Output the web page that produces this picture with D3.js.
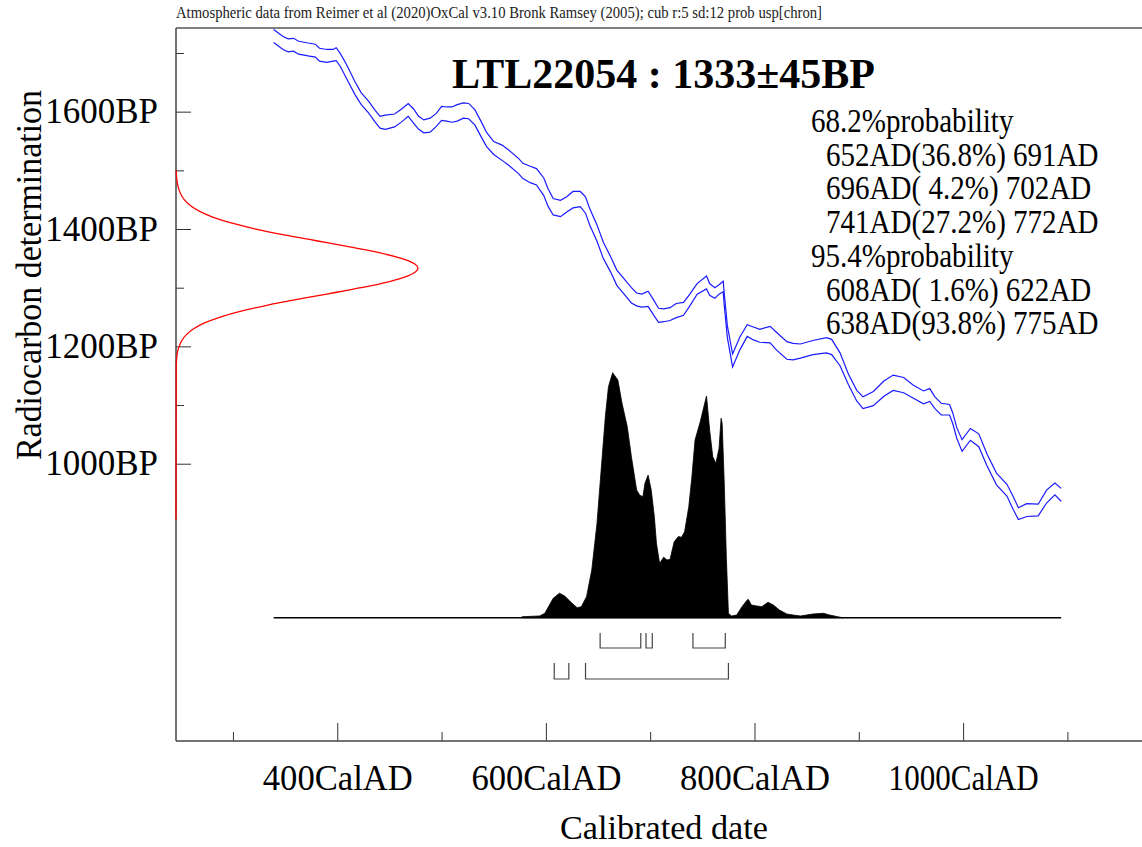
<!DOCTYPE html>
<html>
<head>
<meta charset="utf-8">
<script src="https://cdn.jsdelivr.net/npm/d3@7"></script>
<style>
  body { margin: 0; background: #fff; }
  svg { display: block; font-family: "Liberation Serif", "Times New Roman", serif; }
  .tick line { stroke: #333; }
  .tick text { fill: #000; }
</style>
</head>
<body>
<div id="plot"></div>
<script>
// Calibration curve (IntCal20 as plotted): calendar year AD, BP centre, 1 sigma
var calYears = [339, 348, 353, 358, 363, 372, 379, 383, 390, 396, 399, 403, 409, 417, 423, 430, 436, 441, 446, 455,
  462, 468, 473, 478, 483, 489, 495, 500, 505, 510, 515, 521, 526, 532, 538, 543, 550, 558, 564, 574,
  578, 585, 591, 598, 602, 607, 614, 620, 626, 633, 638, 642, 649, 655, 662, 668, 676, 682, 687, 692,
  698, 703, 708, 713, 719, 725, 732, 738, 745, 754, 757, 762, 766, 770, 771, 774, 779, 786, 793, 799,
  805, 815, 821, 831, 837, 844, 856, 869, 874, 882, 890, 898, 904, 914, 924, 933, 943, 952, 962, 968,
  973, 979, 987, 990, 994, 999, 1007, 1015, 1023, 1032, 1042, 1048, 1053, 1061, 1072, 1080, 1088, 1094];
var calBP = [1729, 1717, 1713, 1714, 1709, 1706, 1704, 1697, 1695, 1696, 1698, 1688, 1668, 1640, 1622, 1608, 1593, 1582, 1582, 1585,
  1594, 1603, 1593, 1581, 1575, 1577, 1586, 1597, 1596, 1595, 1598, 1602, 1601, 1590, 1570, 1553, 1538, 1530, 1522, 1507,
  1499, 1493, 1489, 1472, 1454, 1438, 1435, 1442, 1450, 1451, 1441, 1421, 1393, 1364, 1340, 1317, 1300, 1287, 1280, 1278,
  1281, 1267, 1253, 1253, 1255, 1261, 1264, 1279, 1298, 1309, 1297, 1291, 1297, 1302, 1280, 1225, 1176, 1205, 1227, 1222,
  1218, 1220, 1209, 1193, 1191, 1192, 1198, 1202, 1199, 1178, 1144, 1116, 1104, 1111, 1128, 1138, 1134, 1123, 1113, 1117,
  1104, 1093, 1092, 1078, 1052, 1031, 1050, 1040, 1006, 974, 955, 933, 915, 921, 921, 944, 957, 947];
var calErr = [11, 11, 11, 11, 11, 11, 11, 11, 11, 10, 11, 11, 12, 11, 10, 10, 10, 10, 12, 11,
  11, 11, 12, 11, 11, 12, 11, 12, 12, 13, 14, 13, 13, 13, 13, 12, 11, 13, 13, 13,
  13, 14, 14, 15, 15, 14, 14, 13, 14, 13, 14, 14, 14, 14, 13, 13, 13, 13, 11, 11,
  13, 13, 12, 11, 11, 12, 11, 10, 9, 11, 10, 9, 8, 9, 10, 10, 11, 11, 10, 11,
  11, 14, 15, 15, 14, 12, 12, 13, 13, 11, 9, 9, 10, 12, 13, 13, 13, 11, 11, 11,
  10, 10, 9, 9, 9, 10, 10, 11, 10, 10, 10, 11, 10, 11, 10, 11, 10, 11];

// Measurement likelihood (red), BP vs relative density
var measBP = [1500, 1490, 1480, 1470, 1460, 1450, 1440, 1430, 1420, 1410, 1400, 1390, 1380, 1370, 1360, 1350, 1340, 1333,
  1320, 1310, 1300, 1290, 1280, 1270, 1260, 1250, 1240, 1230, 1220, 1210, 1200, 1190, 1180, 1170, 905];
var measDens = [0.001, 0.002, 0.005, 0.010, 0.019, 0.034, 0.059, 0.098, 0.154, 0.232, 0.330, 0.448, 0.580, 0.713, 0.835, 0.931, 0.988, 1,
  0.959, 0.878, 0.764, 0.634, 0.500, 0.375, 0.269, 0.183, 0.118, 0.073, 0.043, 0.024, 0.013, 0.006, 0.003, 0.001, 0];

// Calibrated probability distribution (black)
var densYears = [577, 594, 599, 607, 613, 618, 625, 630, 634, 639, 644, 649, 652, 657, 660, 664, 669, 673, 678, 682,
  687, 690, 693, 695, 698, 701, 704, 706, 709, 713, 716, 719, 723, 727, 730, 733, 737, 740, 743, 748,
  754, 757, 760, 763, 766, 768, 769, 771, 773, 775, 778, 783, 788, 793, 794, 797, 802, 807, 813, 818,
  824, 831, 837, 844, 850, 856, 866, 872, 882, 885];
var densVals = [0.004, 0.007, 0.018, 0.079, 0.10, 0.089, 0.059, 0.041, 0.045, 0.086, 0.195, 0.385, 0.549, 0.82, 0.943, 1.0, 0.97, 0.875, 0.78, 0.657,
  0.521, 0.50, 0.494, 0.549, 0.582, 0.521, 0.412, 0.304, 0.222, 0.247, 0.236, 0.238, 0.31, 0.331, 0.328, 0.351, 0.453, 0.576, 0.725, 0.80,
  0.905, 0.766, 0.657, 0.63, 0.691, 0.814, 0.793, 0.549, 0.249, 0.018, 0.007, 0.011, 0.045, 0.072, 0.075, 0.052, 0.048, 0.045, 0.063, 0.052,
  0.031, 0.015, 0.011, 0.007, 0.011, 0.015, 0.018, 0.011, 0.002, 0];

// Ranges: [from, to, percent]
var ranges68 = [[652, 691, 36.8], [696, 702, 4.2], [741, 772, 27.2]];
var ranges95 = [[608, 622, 1.6], [638, 775, 93.8]];

var xMajor = [400, 600, 800, 1000];
var xMinor = [300, 500, 700, 900, 1100];
var yMajor = [1000, 1200, 1400, 1600];
var yMinor = [1100, 1300, 1500, 1700];

var headerText = "Atmospheric data from Reimer et al (2020)OxCal v3.10 Bronk Ramsey (2005); cub r:5 sd:12 prob usp[chron]";
var titleText = "LTL22054 : 1333\u00b145BP";

var serif = '"Liberation Serif", "Times New Roman", serif';

// Set up chart
var svgWidth = 1142;
var svgHeight = 847;
var plot = {left: 176, top: 28, right: 1142, bottom: 741};

var svg = d3.select("#plot")
  .append("svg")
  .attr("width", svgWidth)
  .attr("height", svgHeight);

var x = d3.scaleLinear().domain([245.4, 1171.5]).range([plot.left, plot.right]);
var y = d3.scaleLinear().domain([527.4, 1742.6]).range([plot.bottom, plot.top]);
var dens = d3.scaleLinear().domain([0, 1]).range([617.7, 372.7]);
var meas = d3.scaleLinear().domain([0, 1]).range([plot.left, 418]);

// header + frame line
svg.append("text")
  .attr("x", plot.left)
  .attr("y", 18)
  .attr("font-size", "16px")
  .attr("fill", "#222")
  .attr("textLength", 646)
  .attr("lengthAdjust", "spacingAndGlyphs")
  .text(headerText);

svg.append("line")
  .attr("x1", plot.left).attr("x2", plot.right)
  .attr("y1", plot.top).attr("y2", plot.top)
  .attr("stroke", "#555").attr("stroke-width", 1.5);

// axes
var xAxis = svg.append("g")
  .attr("transform", `translate(0, ${plot.bottom})`)
  .call(d3.axisBottom(x).tickValues(xMajor).tickSize(-18).tickPadding(24).tickFormat(d => d + "CalAD"))
  .attr("font-family", serif)
  .attr("font-size", "35px");
xAxis.selectAll("text")
  .attr("textLength", 150)
  .attr("lengthAdjust", "spacingAndGlyphs");

svg.append("g")
  .attr("transform", `translate(0, ${plot.bottom})`)
  .call(d3.axisBottom(x).tickValues(xMinor).tickSize(-9).tickFormat(""));

svg.append("g")
  .attr("transform", `translate(${plot.left}, 0)`)
  .call(d3.axisLeft(y).tickValues(yMajor).tickSize(-15).tickPadding(18).tickFormat(d => d + "BP"))
  .attr("font-family", serif)
  .attr("font-size", "35px");

svg.append("g")
  .attr("transform", `translate(${plot.left}, 0)`)
  .call(d3.axisLeft(y).tickValues(yMinor).tickSize(-8).tickFormat(""));

svg.selectAll(".domain").remove();

svg.append("line")
  .attr("x1", plot.left).attr("x2", plot.right)
  .attr("y1", plot.bottom).attr("y2", plot.bottom)
  .attr("stroke", "#444").attr("stroke-width", 1.5);
svg.append("line")
  .attr("x1", plot.left).attr("x2", plot.left)
  .attr("y1", plot.top).attr("y2", plot.bottom)
  .attr("stroke", "#444").attr("stroke-width", 1.5);

// calibration curve, +/- 1 sigma
var calData = calYears.map((d, i) => ({year: d, bp: calBP[i], err: calErr[i]}));
[1, -1].forEach(function(sign) {
  svg.append("path")
    .datum(calData)
    .attr("fill", "none")
    .attr("stroke", "#1a1aff")
    .attr("stroke-width", 1.2)
    .attr("d", d3.line().x(d => x(d.year)).y(d => y(d.bp + sign * d.err)));
});

// measurement curve on the y axis
var measData = measBP.map((d, i) => ({bp: d, v: measDens[i]}));
svg.append("path")
  .datum(measData)
  .attr("fill", "none")
  .attr("stroke", "#ff0000")
  .attr("stroke-width", 1.3)
  .attr("d", d3.line().x(d => meas(d.v)).y(d => y(d.bp)).curve(d3.curveMonotoneY));

// calibrated distribution
var densData = densYears.map((d, i) => ({year: d, v: densVals[i]}));
svg.append("line")
  .attr("x1", x(calYears[0])).attr("x2", x(calYears[calYears.length - 1]))
  .attr("y1", dens(0)).attr("y2", dens(0))
  .attr("stroke", "#000").attr("stroke-width", 1.5);
svg.append("path")
  .datum(densData)
  .attr("fill", "#000")
  .attr("stroke", "#000")
  .attr("stroke-width", 0.8)
  .attr("d", d3.area().x(d => x(d.year)).y0(dens(0)).y1(d => dens(d.v)));

// range brackets
function brackets(ranges, top, bottom) {
  ranges.forEach(function(r) {
    svg.append("path")
      .attr("fill", "none")
      .attr("stroke", "#444")
      .attr("stroke-width", 1.2)
      .attr("d", `M${x(r[0])},${top}V${bottom}H${x(r[1])}V${top}`);
  });
}
brackets(ranges68, 633, 648);
brackets(ranges95, 663, 679);

// title
svg.append("text")
  .attr("x", 663.5)
  .attr("y", 88)
  .attr("text-anchor", "middle")
  .attr("font-size", "42px")
  .attr("font-weight", "bold")
  .text(titleText);

// probability text
function fmtRange(r) {
  var p = r[2].toFixed(1);
  if (p.length < 4) p = " " + p;
  return r[0] + "AD(" + p + "%) " + r[1] + "AD";
}

var probLines = [];
probLines.push({indent: 0, text: "68.2%probability"});
ranges68.forEach(r => probLines.push({indent: 1, text: fmtRange(r)}));
probLines.push({indent: 0, text: "95.4%probability"});
ranges95.forEach(r => probLines.push({indent: 1, text: fmtRange(r)}));

svg.selectAll(".prob")
  .data(probLines)
  .enter()
  .append("text")
  .attr("class", "prob")
  .attr("transform", (d, i) => `translate(${d.indent ? 826 : 811}, ${132 + i * 33.7}) scale(0.88, 1)`)
  .attr("font-size", "33px")
  .style("white-space", "pre")
  .text(d => d.text);

// axis titles
svg.append("text")
  .attr("transform", "translate(41, 275) rotate(-90)")
  .attr("text-anchor", "middle")
  .attr("font-size", "35px")
  .attr("textLength", 370)
  .attr("lengthAdjust", "spacingAndGlyphs")
  .text("Radiocarbon determination");

svg.append("text")
  .attr("x", 664)
  .attr("y", 839)
  .attr("text-anchor", "middle")
  .attr("font-size", "34px")
  .attr("textLength", 208)
  .attr("lengthAdjust", "spacingAndGlyphs")
  .text("Calibrated date");
</script>
</body>
</html>
